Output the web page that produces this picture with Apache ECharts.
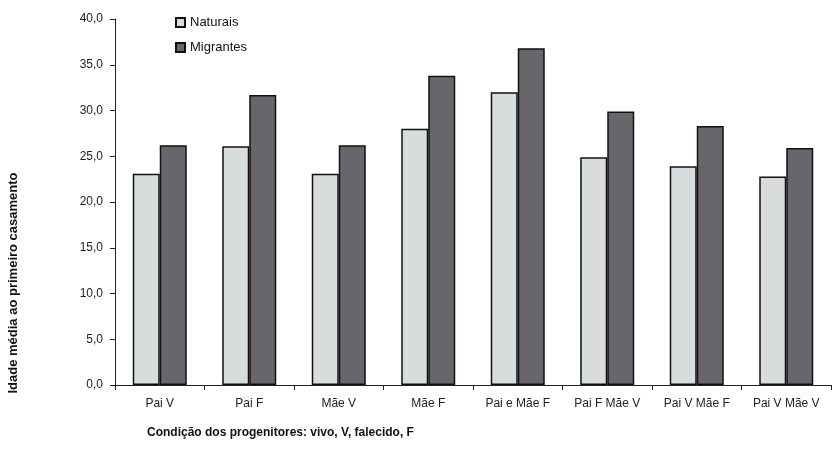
<!DOCTYPE html>
<html><head><meta charset="utf-8">
<script src="https://cdn.jsdelivr.net/npm/echarts@6/dist/echarts.min.js"></script>
<style>html,body{margin:0;padding:0;background:#fff}#c{width:835px;height:467px}</style>
</head><body><div id="c"></div>
<script>
const categories = ["Pai V","Pai F","Mãe V","Mãe F","Pai e Mãe F","Pai F Mãe V","Pai V Mãe F","Pai V Mãe V"];
const naturais = [23.1, 26.1, 23.1, 28.0, 32.0, 24.9, 23.9, 22.8];
const migrantes = [26.2, 31.7, 26.2, 33.8, 36.8, 29.9, 28.3, 25.9];
const yTicks = [0,5,10,15,20,25,30,35,40];
const FONT = '"Liberation Sans",Arial,sans-serif';
const chart = echarts.init(document.getElementById('c'));
chart.setOption({
  animation:false,
  textStyle:{fontFamily:FONT},
  grid:{left:115,right:4,top:19,bottom:82,containLabel:false,outerBoundsMode:'none'},
  legend:{
    left:170, top:11, orient:'vertical', itemWidth:9, itemHeight:9, itemGap:12,
    icon:'rect',
    textStyle:{fontFamily:FONT,fontSize:13,color:'#111'},
    data:['Naturais','Migrantes']
  },
  xAxis:{
    type:'category', data:categories,
    axisLine:{lineStyle:{color:'#222',width:1}},
    axisTick:{show:true,length:5,lineStyle:{color:'#222'}},
    axisLabel:{fontFamily:FONT,fontSize:12,color:'#222',margin:13,interval:0}
  },
  yAxis:{
    type:'value', min:0, max:40, interval:5,
    splitLine:{show:false},
    axisLine:{show:true,lineStyle:{color:'#222'}},
    axisTick:{show:true,length:5,lineStyle:{color:'#222'}},
    axisLabel:{fontFamily:FONT,fontSize:12,color:'#222',margin:12,
      formatter:v=>v.toFixed(1).replace('.',',')}
  },
  graphic:[
    {type:'text',left:147,top:427,style:{text:'Condição dos progenitores: vivo, V, falecido, F',
      font:'bold 12px '+FONT,fill:'#111'}},
    {type:'text',x:13,y:283,rotation:Math.PI/2,style:{text:'Idade média ao primeiro casamento',
      font:'bold 13px '+FONT,fill:'#111',align:'center',verticalAlign:'middle'}}
  ],
  series:[
    {name:'Naturais',type:'bar',data:naturais,barWidth:27,barGap:'0%',
     itemStyle:{color:'#d9dcdc',borderColor:'#111',borderWidth:1.5}},
    {name:'Migrantes',type:'bar',data:migrantes,barWidth:27,barGap:'0%',
     itemStyle:{color:'#68666b',borderColor:'#111',borderWidth:1.5}}
  ]
});
</script></body></html>
